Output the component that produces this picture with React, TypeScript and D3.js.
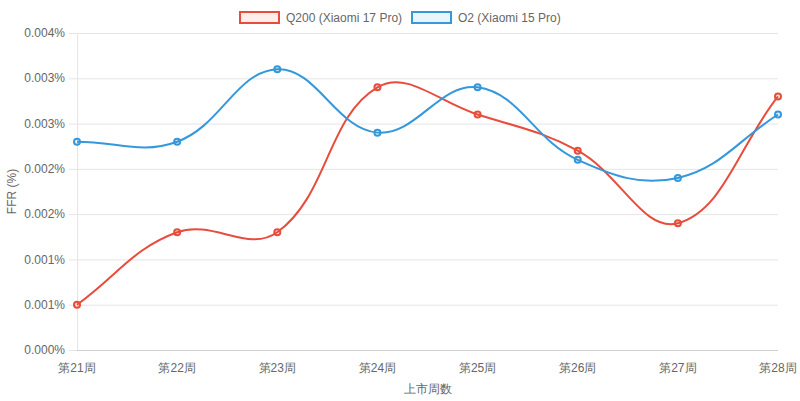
import * as React from "react";
import * as d3 from "d3";

const weeks = ["第21周", "第22周", "第23周", "第24周", "第25周", "第26周", "第27周", "第28周"];
const q200 = [0.0005, 0.0013, 0.0013, 0.0029, 0.0026, 0.0022, 0.0014, 0.0028];
const o2 = [0.0023, 0.0023, 0.0031, 0.0024, 0.0029, 0.0021, 0.0019, 0.0026];
const yTickValues = [0, 0.0005, 0.001, 0.0015, 0.002, 0.0025, 0.003, 0.0035];
const yTickLabels = ["0.000%", "0.001%", "0.001%", "0.002%", "0.002%", "0.003%", "0.003%", "0.004%"];
const seriesNames = ["Q200 (Xiaomi 17 Pro)", "O2 (Xiaomi 15 Pro)"];

const W = 800;
const H = 401;
const FONT = "'Liberation Sans', Arial, Helvetica, sans-serif";

// spline with distance-weighted control points (tension 0.4), as a d3 curve
function splineCurve(context: any) {
    let pts: [number, number][] = [];
    return {
        areaStart() {},
        areaEnd() {},
        lineStart() { pts = []; },
        point(x: number, y: number) { pts.push([+x, +y]); },
        lineEnd() {
            const t = 0.4;
            const n = pts.length;
            if (!n) return;
            const cp = pts.map((p, i) => {
                const prev = pts[Math.max(0, i - 1)];
                const next = pts[Math.min(n - 1, i + 1)];
                const d01 = Math.hypot(p[0] - prev[0], p[1] - prev[1]);
                const d12 = Math.hypot(next[0] - p[0], next[1] - p[1]);
                let s01 = d01 / (d01 + d12);
                let s12 = d12 / (d01 + d12);
                if (isNaN(s01)) s01 = 0;
                if (isNaN(s12)) s12 = 0;
                const fa = t * s01;
                const fb = t * s12;
                return {
                    prev: [p[0] - fa * (next[0] - prev[0]), p[1] - fa * (next[1] - prev[1])],
                    next: [p[0] + fb * (next[0] - prev[0]), p[1] + fb * (next[1] - prev[1])],
                };
            });
            context.moveTo(pts[0][0], pts[0][1]);
            for (let i = 1; i < n; i++) {
                const a = cp[i - 1].next;
                const b = cp[i].prev;
                context.bezierCurveTo(a[0], a[1], b[0], b[1], pts[i][0], pts[i][1]);
            }
        },
    };
}

export default function App() {
    const ref = React.useRef<SVGSVGElement>(null);

    React.useEffect(() => {
        const svg = d3.select(ref.current);
        svg.selectAll("*").remove();

        const margin = { top: 33, right: 22, bottom: 51, left: 77 };
        const x = d3.scalePoint<string>().domain(weeks).range([margin.left, W - margin.right]);
        const y = d3.scaleLinear().domain([0, 0.0035]).range([H - margin.bottom, margin.top]);

        // grid
        const grid = svg.append("g");
        grid.selectAll("line")
            .data(yTickValues)
            .enter()
            .append("line")
            .attr("x1", margin.left - 8)
            .attr("x2", W - margin.right)
            .attr("y1", d => y(d) + 0.5)
            .attr("y2", d => y(d) + 0.5)
            .attr("stroke", "#e5e5e5");
        grid.append("line")
            .attr("x1", margin.left + 0.5)
            .attr("x2", margin.left + 0.5)
            .attr("y1", margin.top)
            .attr("y2", y(0))
            .attr("stroke", "#e5e5e5");
        grid.append("line")
            .attr("x1", margin.left)
            .attr("x2", W - margin.right)
            .attr("y1", y(0) + 0.5)
            .attr("y2", y(0) + 0.5)
            .attr("stroke", "#d0d0d0");

        // y tick labels
        svg.append("g")
            .selectAll("text")
            .data(yTickValues)
            .enter()
            .append("text")
            .attr("x", margin.left - 12)
            .attr("y", d => y(d))
            .attr("dy", "0.35em")
            .attr("text-anchor", "end")
            .attr("font-family", FONT)
            .attr("font-size", 12)
            .attr("fill", "#666")
            .text((d, i) => yTickLabels[i]);

        // x tick labels
        svg.append("g")
            .selectAll("text")
            .data(weeks)
            .enter()
            .append("text")
            .attr("x", d => x(d)!)
            .attr("y", y(0) + 22)
            .attr("text-anchor", "middle")
            .attr("font-family", FONT)
            .attr("font-size", 12)
            .attr("fill", "#666")
            .text(d => d);

        // axis titles
        svg.append("text")
            .attr("x", (margin.left + W - margin.right) / 2)
            .attr("y", 393)
            .attr("text-anchor", "middle")
            .attr("font-family", FONT)
            .attr("font-size", 12)
            .attr("fill", "#666")
            .text("上市周数");
        svg.append("text")
            .attr("transform", `translate(16, ${(margin.top + y(0)) / 2}) rotate(-90)`)
            .attr("text-anchor", "middle")
            .attr("font-family", FONT)
            .attr("font-size", 12)
            .attr("fill", "#666")
            .text("FFR (%)");

        const series = [
            { name: seriesNames[0], values: q200, color: "#e74c3c", fill: "rgba(231,76,60,0.1)" },
            { name: seriesNames[1], values: o2, color: "#3498db", fill: "rgba(52,152,219,0.1)" },
        ];

        const line = d3.line<number>()
            .x((d, i) => x(weeks[i])!)
            .y(d => y(d))
            .curve(splineCurve as any);

        series.forEach(s => {
            svg.append("path")
                .attr("d", line(s.values))
                .attr("fill", "none")
                .attr("stroke", s.color)
                .attr("stroke-width", 2);
            svg.append("g")
                .selectAll("circle")
                .data(s.values)
                .enter()
                .append("circle")
                .attr("cx", (d, i) => x(weeks[i])!)
                .attr("cy", d => y(d))
                .attr("r", 3)
                .attr("fill", s.fill)
                .attr("stroke", s.color)
                .attr("stroke-width", 2);
        });

        // legend
        const legendX = [239, 411];
        series.forEach((s, i) => {
            const g = svg.append("g").attr("transform", `translate(${legendX[i]}, 11)`);
            g.append("rect")
                .attr("x", 1)
                .attr("y", 1)
                .attr("width", 39)
                .attr("height", 11)
                .attr("fill", s.fill)
                .attr("stroke", s.color)
                .attr("stroke-width", 2);
            g.append("text")
                .attr("x", 47)
                .attr("y", 6.5)
                .attr("dy", "0.35em")
                .attr("font-family", FONT)
                .attr("font-size", 12)
                .attr("fill", "#666")
                .text(s.name);
        });
    }, []);

    return (
        <svg
            ref={ref}
            width={W}
            height={H}
            style={{ position: "absolute", left: 0, top: 0, background: "#fff" }}
        />
    );
}
